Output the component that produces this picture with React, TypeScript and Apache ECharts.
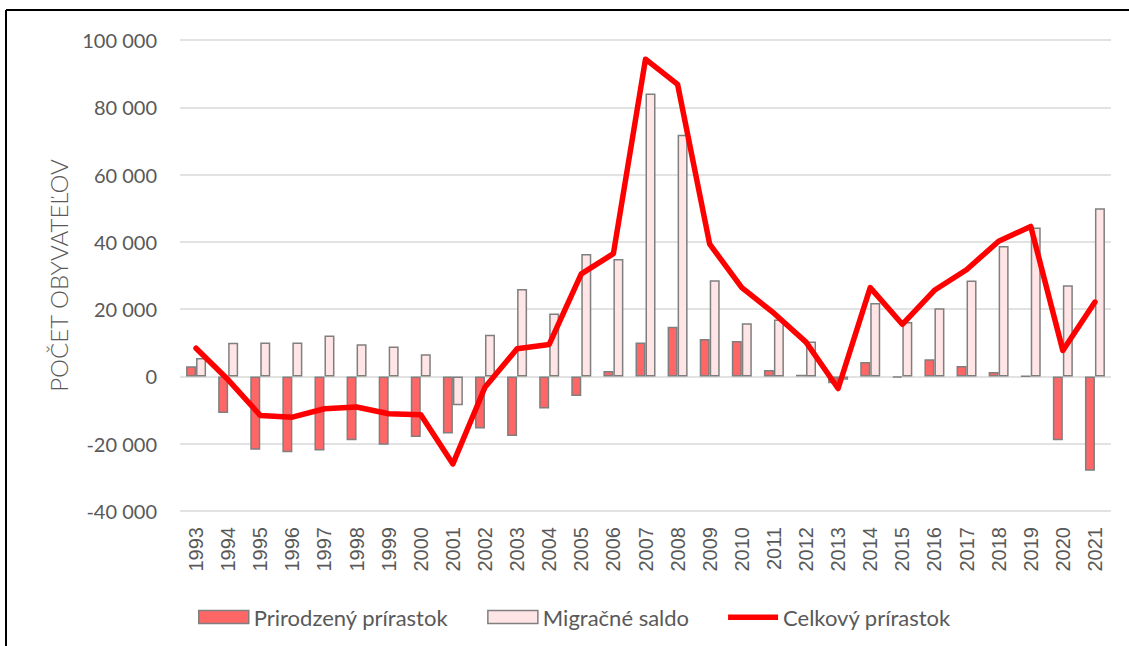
import React, { useEffect, useRef } from "react";
import * as echarts from "echarts";

const years = ["1993","1994","1995","1996","1997","1998","1999","2000","2001","2002","2003","2004","2005","2006","2007","2008","2009","2010","2011","2012","2013","2014","2015","2016","2017","2018","2019","2020","2021"];
const natural = [3000, -10900, -21800, -22500, -22000, -19000, -20300, -18000, -17000, -15500, -17700, -9500, -5800, 1600, 10100, 14800, 11100, 10500, 1900, 500, -2000, 4300, -300, 5100, 3100, 1300, 100, -19000, -28000];
const migration = [5500, 10000, 10100, 10100, 12200, 9600, 8900, 6600, -8600, 12400, 26000, 18700, 36400, 34900, 84100, 71800, 28600, 15800, 16900, 10400, -1000, 21800, 16200, 20300, 28500, 38800, 44300, 27100, 50000];
const total = [8400, -1000, -11600, -12100, -9600, -9100, -11100, -11400, -26000, -3200, 8200, 9500, 30500, 36500, 94300, 86800, 39300, 26400, 18800, 10200, -3600, 26400, 15500, 25600, 31700, 40200, 44600, 7700, 22100];
const seriesNames = ["Prirodzený prírastok", "Migračné saldo", "Celkový prírastok"];
const yTitle = "POČET OBYVATEĽOV";

const fmt = (v: number) => {
  const s = Math.abs(v).toString().replace(/\B(?=(\d{3})+(?!\d))/g, " ");
  return (v < 0 ? "-" : "") + s;
};

export default function App() {
  const ref = useRef<HTMLDivElement>(null);
  useEffect(() => {
    if (!ref.current) return;
    const chart = echarts.init(ref.current, undefined, { renderer: "svg" });
    const grey = "#595959";
    const barBorder = "#7f7f7f";
    chart.setOption({
      animation: false,
      backgroundColor: "#ffffff",
      textStyle: { fontFamily: "Lato" },
      grid: { left: 180, right: 18, top: 40, bottom: 135, containLabel: false },
      legend: {
        left: 193,
        top: 601,
        itemWidth: 50,
        itemHeight: 13,
        itemGap: 39,
        textStyle: { fontFamily: "Lato", fontSize: 22, color: grey },
        data: [
          { name: seriesNames[0], icon: "rect", itemStyle: { color: "#ff6666", borderColor: barBorder, borderWidth: 1.5 } },
          { name: seriesNames[1], icon: "rect", itemStyle: { color: "#ffe5e5", borderColor: barBorder, borderWidth: 1.5 } },
          {
            name: seriesNames[2],
            icon: "path://M0,0 L0.01,0 L0,0.01 Z M0,4 L50,4 L50,9.5 L0,9.5 Z M50,13 L49.99,13 L50,12.99 Z",
            itemStyle: { color: "#ff0000", borderWidth: 0 },
          },
        ],
      },
      xAxis: {
        type: "category",
        data: years,
        axisLine: { show: false },
        axisTick: { show: false },
        axisLabel: {
          rotate: 90,
          margin: 16,
          fontFamily: "Liberation Sans",
          fontSize: 20,
          color: grey,
          interval: 0,
        },
        splitLine: { show: false },
      },
      yAxis: {
        type: "value",
        min: -40000,
        max: 100000,
        interval: 20000,
        name: yTitle,
        nameLocation: "middle",
        nameRotate: 90,
        nameGap: 110,
        nameTextStyle: { fontFamily: "Lato", fontSize: 24, fontWeight: 300, color: grey },
        axisLine: { show: false },
        axisTick: { show: false },
        axisLabel: {
          formatter: (v: number) => fmt(v),
          fontFamily: "Lato",
          fontSize: 20,
          color: grey,
          margin: 23,
        },
        splitLine: { show: true, lineStyle: { color: "#d9d9d9", width: 1.5 } },
      },
      series: [
        {
          name: seriesNames[0],
          type: "bar",
          data: natural,
          barWidth: 10,
          barGap: "0%",
          itemStyle: { color: "#ff6666", borderColor: barBorder, borderWidth: 1.5 },
        },
        {
          name: seriesNames[1],
          type: "bar",
          data: migration,
          barWidth: 10,
          barGap: "0%",
          itemStyle: { color: "#ffe5e5", borderColor: barBorder, borderWidth: 1.5 },
        },
        {
          name: seriesNames[2],
          type: "line",
          data: total,
          symbol: "none",
          lineStyle: { color: "#ff0000", width: 5.5, cap: "round", join: "round" },
          itemStyle: { color: "#ff0000" },
          z: 5,
        },
      ],
      graphic: [
        { type: "line", shape: { x1: 6, y1: 10, x2: 6, y2: 646 }, style: { stroke: "#000", lineWidth: 2 } },
        { type: "line", shape: { x1: 6, y1: 10, x2: 1129, y2: 10 }, style: { stroke: "#000", lineWidth: 2 } },
      ],
    });
    return () => chart.dispose();
  }, []);
  return (
    <div
      ref={ref}
      style={{ position: "fixed", left: 0, top: 0, width: 1129, height: 646 }}
    />
  );
}
